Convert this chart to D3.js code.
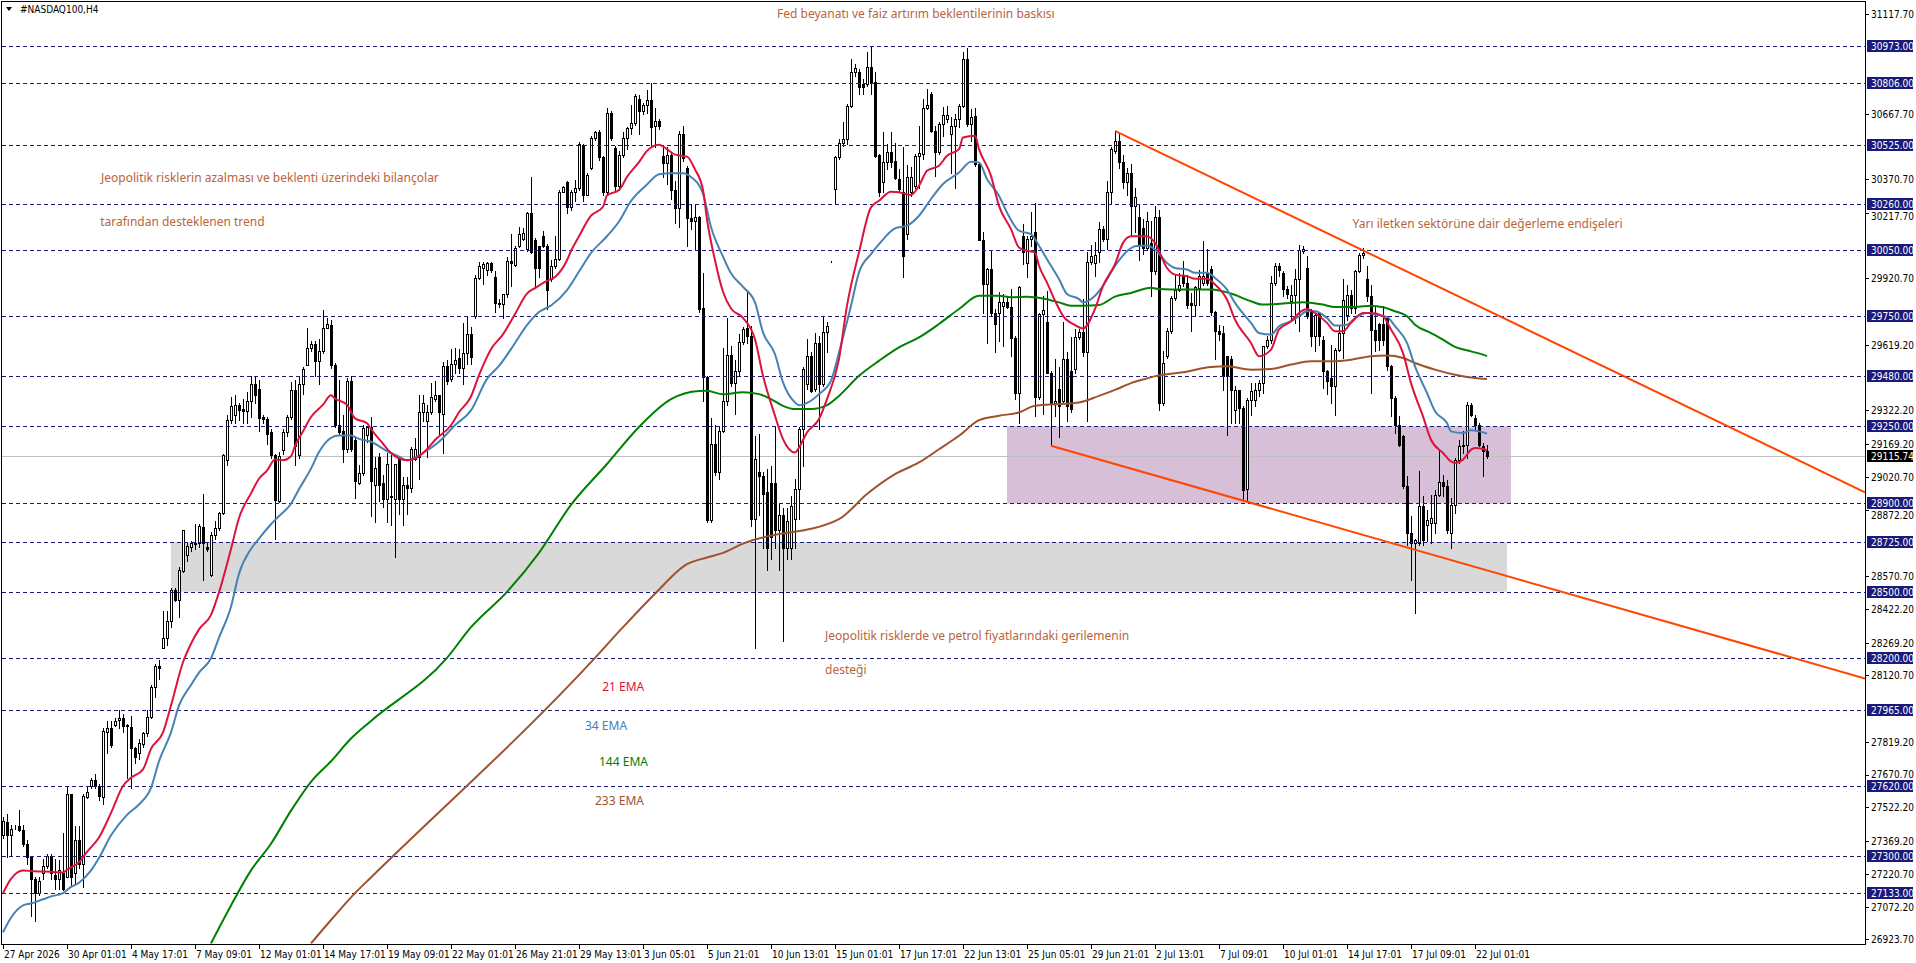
<!DOCTYPE html>
<html><head><meta charset="utf-8">
<script src="https://cdn.jsdelivr.net/npm/d3@7"></script>
<style>body{margin:0;background:#fff;overflow:hidden}svg{display:block}</style>
</head><body><svg id="c" width="1916" height="963"></svg>
<script>
// ---------- DATA ----------
const symbolTitle = "#NASDAQ100,H4";
const opens = [
27395,27454,27395,27432,27436,27417,27357,27297,27198,27133,
27226,27254,27301,27217,27198,27226,27208,27582,27226,27376,
27264,27567,27619,27647,27619,27567,27862,27884,27895,27918,
27927,27895,27886,27791,27769,27810,27858,27933,28068,28161,
28245,28288,28367,28507,28464,28595,28666,28703,28722,28722,
28793,28703,28576,28756,28787,28856,29099,29279,29301,29348,
29329,29320,29367,29442,29417,29292,29283,29223,29118,28913,
29142,29223,29292,29414,29118,29442,29530,29604,29623,29548,
29591,29698,29709,29529,29255,29230,29148,29455,29189,28993,
29040,29210,29245,28986,29112,28995,28919,28936,28919,29104,
28919,28986,28970,29104,29112,29314,29272,29314,29373,29390,
29306,29524,29465,29532,29558,29516,29583,29667,29751,29924,
29967,29961,29992,29927,29810,29805,29852,29998,29980,30070,
30100,30053,30218,30095,30066,30112,30070,29919,29978,30011,
30314,30356,30246,30314,30330,30527,30301,30423,30557,30586,
30473,30314,30672,30512,30339,30482,30557,30604,30625,30734,
30678,30709,30729,30612,30633,30477,30443,30482,30322,30242,
30574,30423,30196,30179,30201,29787,29474,28827,29171,29045,
29230,29364,29574,29448,29499,29633,29694,29661,28830,29044,
29026,28950,28995,28995,28780,28850,28700,28700,28829,28965,
29237,29442,29567,29419,29627,29442,29676,29995,30326,30470,
30537,30555,30704,30855,30855,30802,30802,30878,30810,30480,
30356,30447,30492,30454,30371,30311,30122,30311,30341,30477,
30485,30692,30757,30590,30492,30621,30643,30575,30611,30643,
30704,30916,30621,30658,30439,30097,29896,29963,29766,29766,
29797,29812,29790,29650,29401,30111,29990,30099,30132,29381,
29760,29721,29494,29358,29419,29366,29555,29502,29509,29653,
29676,29585,29995,29990,30039,30144,30099,30311,30500,30545,
30450,30360,30400,30250,30200,30150,30059,30082,29953,30200,
29356,29568,29681,29832,29870,29938,29900,29807,29798,29878,
29900,29946,29964,29767,29681,29673,29568,29556,29325,29413,
29333,28966,29371,29371,29416,29446,29613,29643,29900,29976,
29946,29873,29817,29847,29918,30044,29968,29772,29658,29764,
29643,29500,29469,29431,29598,29673,29757,29847,29787,29953,
30029,29918,29840,29689,29715,29715,29741,29522,29379,29257,
29208,28978,28766,28721,28721,28887,28804,28811,28811,28940,
28997,28978,28766,28891,29099,29159,29167,29348,29288,29257,29159,29136];
const highs = [
27479,27492,27441,27441,27511,27441,27376,27297,27208,27208,
27286,27311,27311,27286,27282,27404,27619,27582,27436,27436,
27582,27619,27656,27671,27628,27881,27914,27914,27927,27965,
27946,27899,27937,27797,27834,27862,27965,28077,28170,28189,
28413,28413,28516,28516,28610,28782,28722,28731,28806,28806,
28942,28722,28769,28819,28862,29124,29301,29385,29391,29357,
29376,29404,29479,29479,29460,29301,29292,29236,29124,29133,
29236,29301,29451,29460,29479,29520,29694,29638,29638,29647,
29778,29740,29730,29535,29460,29301,29470,29479,29208,29073,
29255,29249,29292,29112,29129,29028,29129,29121,29079,29112,
29020,29020,29154,29196,29390,29390,29348,29448,29457,29390,
29541,29549,29600,29603,29600,29717,29751,29700,29936,29994,
29994,29994,29994,29955,29826,29852,30020,30120,30070,30156,
30150,30221,30381,30104,30070,30137,30078,30003,30112,30322,
30339,30364,30322,30368,30540,30532,30398,30566,30591,30594,
30478,30695,30678,30520,30499,30583,30608,30709,30759,30751,
30717,30773,30806,30692,30642,30524,30515,30494,30364,30590,
30612,30431,30255,30255,30205,29944,29480,29288,29255,29247,
29603,29742,29616,29549,29667,29700,29857,29706,29207,29215,
29041,29056,29071,29252,28900,28880,28880,28935,29011,29245,
29517,29645,29585,29672,29661,29744,29721,29998,30477,30553,
30628,30711,30916,30893,30870,30825,30946,30976,30855,30485,
30583,30530,30583,30537,30417,30515,30435,30424,30485,30613,
30734,30782,30764,30613,30630,30696,30704,30651,30666,30711,
30949,30964,30689,30692,30447,30132,29966,30046,29782,29857,
29850,29835,29872,29661,29887,30167,30111,30220,30262,29763,
29842,29865,29500,29555,29517,29721,29585,29653,29691,29691,
29827,30039,30071,30084,30175,30160,30364,30515,30590,30576,
30480,30420,30440,30330,30260,30190,30220,30180,30250,30230,
29590,29696,29840,29938,29946,29999,29938,29855,29885,29961,
30089,30052,29976,29772,29711,29704,29570,29570,29431,29416,
29340,29378,29446,29446,29462,29616,29661,29931,29991,29991,
29953,29885,29893,29964,30074,30070,30021,29780,29764,29770,
29658,29507,29621,29605,29704,29918,29893,29870,29961,30036,
30059,29976,29893,29794,29719,29794,29749,29530,29386,29295,
29212,29023,28842,28740,29046,28932,28872,28940,28963,29144,
29030,29008,28925,29106,29189,29227,29359,29356,29303,29265,29174,29167];
const lows = [
27385,27297,27301,27426,27413,27348,27264,27030,27006,27124,
27198,27245,27198,27152,27152,27148,27208,27170,27180,27245,
27161,27563,27610,27610,27554,27535,27769,27797,27890,27881,
27862,27656,27610,27722,27741,27797,27847,27927,28021,28105,
28245,28258,28339,28460,28385,28591,28638,28684,28694,28703,
28554,28684,28572,28741,28782,28853,29073,29264,29264,29279,
29264,29264,29292,29357,29227,29264,29170,29105,28741,28909,
29124,29208,29283,29073,29105,29395,29526,29591,29479,29442,
29582,29694,29516,29249,29217,29086,29133,29137,28924,28987,
29030,29180,28843,28818,28911,28886,28818,28801,28659,28852,
28801,28852,28953,29096,29012,29272,29112,29306,29364,29213,
29129,29440,29457,29490,29490,29440,29532,29532,29742,29919,
29894,29936,29950,29768,29793,29742,29835,29885,29978,30062,
30095,30045,30036,29885,29927,30062,29784,29910,29969,30003,
30314,30218,30230,30272,30322,30272,30297,30415,30549,30457,
30297,30305,30549,30322,30322,30473,30507,30574,30616,30574,
30667,30672,30515,30515,30599,30381,30347,30280,30171,30154,
30452,30070,30146,30053,29770,29364,28818,28818,29030,29012,
29222,29348,29432,29306,29482,29625,29630,28800,28246,28850,
28700,28600,28650,28700,28600,28276,28650,28650,28700,28829,
29071,29419,29404,29411,29237,29434,29585,29993,30262,30462,
30522,30530,30696,30840,30757,30757,30795,30757,30470,30296,
30311,30417,30424,30371,30311,29925,30099,30296,30333,30333,
30462,30689,30583,30386,30485,30568,30628,30401,30333,30606,
30696,30613,30545,30432,30093,29766,29630,29751,29585,29638,
29615,29785,29570,29373,29267,29986,29925,30069,29298,29373,
29306,29490,29162,29298,29200,29358,29275,29313,29494,29645,
29570,29275,29985,29933,29993,30090,30054,30265,30490,30420,
30330,30300,30112,30130,30006,30030,30050,29840,29940,29325,
29348,29560,29673,29825,29862,29885,29787,29681,29749,29802,
29893,29893,29757,29556,29643,29416,29212,29265,29265,29265,
28917,28917,29300,29341,29386,29401,29605,29628,29893,29931,
29840,29832,29734,29719,29681,30036,29741,29613,29590,29621,
29424,29398,29356,29303,29590,29560,29734,29764,29764,29951,
30014,29817,29401,29590,29598,29621,29507,29295,29220,29159,
28970,28713,28554,28403,28713,28713,28728,28721,28766,28932,
28932,28766,28698,28857,29084,29129,29106,29298,29235,29159,29023,29106];
const closes = [
27460,27395,27426,27434,27417,27357,27297,27198,27133,27189,
27254,27301,27226,27198,27236,27152,27582,27208,27376,27264,
27572,27591,27647,27619,27572,27866,27881,27806,27914,27927,
27890,27890,27791,27750,27815,27858,27933,28068,28161,28152,
28288,28367,28507,28464,28600,28778,28707,28722,28718,28797,
28722,28694,28756,28787,28856,29118,29279,29342,29348,29324,
29320,29367,29442,29391,29286,29283,29217,29118,28918,29114,
29223,29292,29414,29161,29442,29511,29604,29623,29548,29591,
29698,29716,29529,29255,29223,29148,29455,29148,29002,29040,
29242,29245,29002,29062,28986,28919,29079,28928,29079,28919,
28986,28970,29146,29146,29314,29356,29314,29381,29390,29314,
29524,29457,29532,29549,29516,29583,29667,29563,29924,29978,
29986,29990,29961,29810,29805,29852,29998,29990,30057,30120,
30125,30218,30040,29967,29969,30070,29868,29978,30011,30314,
30334,30246,30314,30330,30532,30301,30390,30557,30586,30470,
30314,30672,30557,30339,30482,30557,30604,30625,30746,30678,
30709,30729,30608,30633,30612,30443,30482,30322,30242,30574,
30465,30196,30179,30201,29784,29474,28825,29171,29045,29230,
29364,29574,29448,29499,29633,29692,29661,28830,29104,29026,
28943,28700,28750,28780,28850,28700,28820,28889,28965,29237,
29509,29567,29411,29627,29442,29676,29706,29995,30470,30537,
30555,30704,30855,30873,30787,30787,30878,30810,30477,30311,
30447,30492,30447,30374,30326,30023,30379,30379,30477,30489,
30692,30706,30590,30492,30621,30662,30662,30611,30643,30704,
30916,30621,30651,30439,30097,29896,29963,29766,29714,29812,
29812,29790,29650,29401,29880,30039,30099,30114,29381,29760,
29779,29494,29358,29366,29343,29555,29343,29328,29653,29676,
29585,29995,30023,30029,30144,30099,30311,30507,30545,30450,
30360,30400,30250,30290,30074,30060,30180,29953,30200,29356,
29537,29681,29832,29870,29893,29900,29802,29798,29882,29931,
29931,29900,29767,29681,29670,29477,29477,29416,29413,29333,
28963,29371,29410,29416,29446,29613,29643,29900,29976,29961,
29873,29852,29847,29918,30048,30052,29749,29658,29757,29658,
29500,29454,29431,29598,29673,29825,29847,29787,29953,30029,
30036,29840,29689,29640,29643,29640,29522,29379,29257,29167,
28978,28766,28721,28736,28887,28736,28827,28834,28940,28997,
28978,28781,28891,29099,29159,29167,29348,29303,29257,29167,29136,29115.74];

// EMA values: [bar index, value]
const ema21 = [[0,27133],[2,27198],[5,27236],[8,27232],[12,27230],[15,27226],[16,27240],[19,27273],[21,27320],[24,27385],[27,27497],[30,27619],[32,27656],[35,27694],[37,27787],[40,27862],[42,27984],[45,28180],[47,28264],[49,28329],[52,28395],[54,28497],[57,28694],[59,28834],[62,28946],[64,29012],[66,29049],[68,29100],[70,29096],[72,29114],[73,29161],[75,29227],[77,29292],[80,29348],[82,29391],[83,29376],[86,29348],[88,29286],[91,29264],[92,29238],[95,29171],[97,29129],[101,29096],[103,29104],[106,29146],[108,29188],[112,29255],[114,29314],[117,29385],[119,29482],[122,29600],[125,29667],[128,29759],[131,29852],[133,29877],[136,29910],[138,29927],[141,30003],[142,30045],[144,30112],[147,30205],[150,30246],[151,30297],[154,30322],[156,30381],[159,30448],[161,30499],[164,30527],[166,30507],[168,30482],[171,30473],[173,30415],[175,30322],[176,30188],[178,30003],[180,29860],[182,29784],[185,29742],[188,29645],[190,29479],[193,29298],[195,29192],[198,29131],[199,29154],[201,29222],[204,29283],[206,29373],[209,29555],[211,29797],[214,30039],[217,30243],[219,30273],[222,30314],[224,30311],[227,30299],[229,30341],[231,30409],[234,30432],[236,30477],[239,30507],[240,30560],[243,30568],[244,30507],[247,30386],[249,30250],[252,30144],[254,30061],[256,30046],[258,30039],[259,29978],[261,29902],[263,29820],[265,29751],[268,29709],[270,29694],[273,29782],[275,29887],[278,29985],[280,30082],[282,30112],[286,30112],[288,30082],[291,29968],[293,29938],[296,29931],[298,29919],[301,29919],[303,29893],[306,29825],[308,29734],[312,29628],[314,29568],[317,29598],[319,29689],[322,29726],[324,29764],[326,29782],[328,29764],[331,29719],[333,29681],[335,29681],[337,29719],[340,29764],[342,29764],[345,29749],[347,29689],[350,29583],[352,29446],[355,29295],[357,29189],[360,29129],[362,29091],[363,29084],[365,29099],[367,29144],[368,29152],[370,29147],[371,29141]];
const ema34 = [[0,26955],[2,27021],[5,27077],[7,27086],[10,27105],[12,27118],[15,27133],[17,27161],[19,27180],[22,27236],[24,27292],[27,27395],[31,27488],[34,27535],[37,27610],[39,27731],[42,27862],[44,27984],[47,28077],[49,28133],[52,28198],[54,28292],[57,28432],[59,28582],[62,28694],[64,28741],[67,28806],[69,28843],[72,28899],[74,28965],[77,29058],[79,29133],[82,29198],[84,29208],[87,29208],[89,29193],[92,29180],[96,29138],[99,29112],[101,29096],[105,29129],[109,29180],[113,29255],[117,29322],[121,29465],[124,29524],[127,29600],[131,29709],[134,29768],[137,29798],[141,29868],[144,29952],[147,30036],[151,30112],[154,30179],[157,30272],[161,30347],[164,30393],[167,30398],[170,30398],[172,30381],[175,30305],[177,30154],[180,30020],[182,29944],[185,29882],[188,29812],[190,29676],[193,29577],[195,29449],[198,29358],[199,29346],[202,29366],[204,29396],[207,29457],[209,29585],[212,29797],[214,29948],[217,30031],[219,30076],[223,30148],[226,30160],[229,30205],[232,30281],[235,30349],[239,30401],[242,30450],[244,30447],[246,30371],[249,30296],[251,30220],[254,30137],[257,30122],[259,30069],[261,30008],[264,29918],[266,29850],[269,29827],[270,29812],[273,29842],[275,29887],[278,29977],[281,30044],[283,30067],[286,30070],[288,30052],[291,29991],[293,29968],[296,29961],[298,29946],[301,29946],[303,29923],[306,29870],[308,29810],[312,29719],[314,29673],[317,29666],[319,29704],[322,29726],[324,29749],[326,29772],[328,29772],[331,29741],[333,29707],[336,29711],[338,29741],[341,29764],[343,29757],[346,29746],[348,29704],[351,29628],[353,29522],[356,29401],[358,29318],[361,29265],[362,29227],[365,29220],[367,29232],[369,29227],[371,29217]];
const ema144 = [[52,26905],[57,27077],[62,27236],[67,27357],[72,27507],[77,27638],[82,27731],[87,27834],[92,27914],[111,28200],[117,28339],[126,28499],[134,28676],[142,28894],[151,29079],[159,29247],[167,29373],[174,29410],[176,29411],[180,29395],[185,29404],[189,29396],[192,29373],[195,29343],[198,29328],[202,29328],[206,29346],[209,29388],[214,29479],[219,29547],[224,29608],[229,29653],[234,29714],[239,29782],[244,29842],[249,29842],[252,29835],[256,29838],[260,29830],[264,29812],[267,29797],[270,29797],[274,29800],[278,29838],[282,29855],[287,29878],[289,29873],[295,29870],[302,29870],[307,29852],[312,29817],[315,29802],[320,29807],[325,29813],[330,29802],[333,29791],[338,29791],[342,29797],[345,29790],[348,29772],[351,29749],[353,29711],[357,29673],[360,29643],[363,29610],[367,29590],[370,29575],[371,29568]];
const ema233 = [[77,26905],[82,27011],[88,27133],[92,27204],[148,28200],[155,28339],[163,28491],[171,28625],[176,28655],[180,28676],[185,28718],[209,28829],[216,28943],[223,29033],[229,29086],[234,29146],[239,29207],[244,29278],[249,29298],[254,29313],[258,29343],[264,29351],[269,29358],[274,29388],[278,29415],[282,29446],[285,29462],[289,29481],[295,29495],[302,29519],[306,29522],[312,29507],[317,29510],[322,29530],[327,29545],[332,29545],[337,29552],[342,29568],[346,29571],[350,29560],[353,29537],[358,29507],[363,29484],[368,29469],[371,29465]];

const hLevels = [30973,30806,30525,30260,30050,29750,29480,29250,28900,28725,28500,28200,27965,27620,27300,27133];
const priceTicks = [31117.70,30667.70,30370.70,30217.70,29920.70,29619.20,29322.20,29169.20,29020.70,28872.20,28570.70,28422.20,28269.20,28120.70,27819.20,27670.70,27522.20,27369.20,27220.70,27072.20,26923.70];
const lastPrice = 29115.74;
const timeLabels = ["27 Apr 2026","30 Apr 01:01","4 May 17:01","7 May 09:01","12 May 01:01","14 May 17:01","19 May 09:01","22 May 01:01","26 May 21:01","29 May 13:01","3 Jun 05:01","5 Jun 21:01","10 Jun 13:01","15 Jun 01:01","17 Jun 17:01","22 Jun 13:01","25 Jun 05:01","29 Jun 21:01","2 Jul 13:01","7 Jul 09:01","10 Jul 01:01","14 Jul 17:01","17 Jul 09:01","22 Jul 01:01"];
const barsPerLabel = 16;
// zones: [startBar, endBar, priceTop, priceBottom]
const purpleZone = [251, 377, 29250, 28900];
const grayZone = [42, 376, 28725, 28500];
// trend lines (rays): [[bar, price],[bar, price]]
const upperTrend = [[278, 30590], [373.25, 29757]];
const lowerTrend = [[262, 29162], [373.25, 28585]];
// annotations: [text, bar, price]
const notes = [
 ["Fed beyanatı ve faiz artırım beklentilerinin baskısı", 193.5, 31118],
 ["Jeopolitik risklerin azalması ve beklenti üzerindeki bilançolar", 24.5, 30374],
 ["tarafından desteklenen trend", 24.3, 30175],
 ["Yarı iletken sektörüne dair değerleme endişeleri", 337.4, 30164],
 ["Jeopolitik risklerde ve petrol fiyatlarındaki gerilemenin", 205.5, 28296],
 ["desteği", 205.5, 28141]
];
const emaLabels = [["21 EMA", 149.8, 28065, "#DC143C"],["34 EMA", 145.5, 27888, "#4682B4"],["144 EMA", 149, 27722, "#008000"],["233 EMA", 148, 27548, "#A0522D"]];

// ---------- DRAW ----------
const svg = d3.select("#c");
const plotR = 1865, plotB = 944;
const y = d3.scaleLinear().domain([26899.5, 31183.4]).range([944.6, 0]);
const x = d3.scaleLinear().domain([0, 371]).range([3, 1487]);
const font = "'DejaVu Sans Condensed','DejaVu Sans',sans-serif";
const navy = "#1a1a7a";

svg.append("rect").attr("width",1916).attr("height",963).attr("fill","#fff");
svg.append("defs").append("clipPath").attr("id","pc").append("rect").attr("x",2).attr("y",2).attr("width",plotR-2).attr("height",plotB-2);
const g = svg.append("g").attr("clip-path","url(#pc)");

function zone(z, fill){
  g.append("rect").attr("x",x(z[0])).attr("y",y(z[2])).attr("width",x(z[1])-x(z[0])).attr("height",y(z[3])-y(z[2])).attr("fill",fill);
}
zone(grayZone, "#d9d9d9");
zone(purpleZone, "#d8bfd8");

g.append("line").attr("x1",2).attr("x2",plotR).attr("y1",Math.round(y(lastPrice))+0.5).attr("y2",Math.round(y(lastPrice))+0.5).attr("stroke","#c0c0c0").attr("stroke-width",1);

const cg = g.append("g").attr("shape-rendering","crispEdges");
opens.forEach((o,i)=>{
  const c = closes[i], h = highs[i], l = lows[i];
  const cx = Math.round(x(i));
  const yh = Math.round(y(h)), yl = Math.round(y(l));
  cg.append("line").attr("x1",cx+0.5).attr("x2",cx+0.5).attr("y1",yh).attr("y2",yl+1).attr("stroke","#000");
  const top = Math.round(y(Math.max(o,c))), bot = Math.round(y(Math.min(o,c)));
  if (c >= o) {
    cg.append("rect").attr("x",cx-0.5).attr("y",top+0.5).attr("width",2).attr("height",Math.max(0,bot-top)).attr("fill","#fff").attr("stroke","#000");
  } else {
    cg.append("rect").attr("x",cx-1).attr("y",top).attr("width",3).attr("height",Math.max(1,bot-top+1)).attr("fill","#000");
  }
});

hLevels.forEach(p=>{
  const yy = Math.round(y(p))+0.5;
  g.append("line").attr("x1",2).attr("x2",plotR).attr("y1",yy).attr("y2",yy).attr("stroke",navy).attr("stroke-width",1).attr("stroke-dasharray","4,3");
});

const line = d3.line().x(d=>x(d[0])).y(d=>y(d[1])).curve(d3.curveMonotoneX);
[[ema233,"#A0522D"],[ema144,"#008000"],[ema34,"#4682B4"],[ema21,"#DC143C"]].forEach(([d,col])=>{
  g.append("path").attr("d",line(d)).attr("fill","none").attr("stroke",col).attr("stroke-width",2);
});

function ray(t){
  const [a,b] = t;
  const slope = (b[1]-a[1])/(b[0]-a[0]);
  const endBar = x.invert(plotR);
  const endP = a[1] + slope*(endBar-a[0]);
  g.append("line").attr("x1",x(a[0])).attr("y1",y(a[1])).attr("x2",x(endBar)).attr("y2",y(endP)).attr("stroke","#FF4500").attr("stroke-width",2);
}
ray(upperTrend); ray(lowerTrend);

const nfont = "'Noto Sans','Open Sans',sans-serif";
notes.forEach(([t,b,p])=>{
  g.append("text").attr("x",x(b)).attr("y",y(p)).attr("dominant-baseline","middle").attr("font-family",nfont).attr("font-size",12).attr("fill","#b8653c").text(t);
});
emaLabels.forEach(([t,b,p,col])=>{
  g.append("text").attr("x",x(b)).attr("y",y(p)).attr("dominant-baseline","middle").attr("font-family",nfont).attr("font-size",12).attr("fill",col).text(t);
});

const ax = svg.append("g").attr("shape-rendering","crispEdges");
ax.append("line").attr("x1",1.5).attr("x2",1.5).attr("y1",1).attr("y2",plotB).attr("stroke","#000");
ax.append("line").attr("x1",1).attr("x2",plotR).attr("y1",1.5).attr("y2",1.5).attr("stroke","#000");
ax.append("line").attr("x1",plotR+0.5).attr("x2",plotR+0.5).attr("y1",1).attr("y2",plotB+1).attr("stroke","#000");
ax.append("line").attr("x1",1).attr("x2",plotR+1).attr("y1",plotB+0.5).attr("y2",plotB+0.5).attr("stroke","#000");

priceTicks.forEach(p=>{
  const yy = Math.round(y(p))+0.5;
  let ty = yy;
  hLevels.concat([lastPrice]).forEach(L=>{
    const ly = Math.round(y(L));
    if (Math.abs(ly - yy) < 12) ty = ly < yy ? ly + 12.5 : ly - 11.5;
  });
  ax.append("line").attr("x1",plotR).attr("x2",plotR+4).attr("y1",yy).attr("y2",yy).attr("stroke","#000");
  svg.append("text").attr("x",plotR+6).attr("y",ty).attr("dominant-baseline","middle").attr("font-family",font).attr("font-size",10).attr("fill","#000").text(d3.format(".2f")(p));
});
hLevels.forEach(p=>{
  const yy = Math.round(y(p));
  svg.append("rect").attr("x",plotR+2).attr("y",yy-6).attr("width",46).attr("height",12).attr("fill",navy);
  svg.append("text").attr("x",plotR+6).attr("y",yy+0.5).attr("dominant-baseline","middle").attr("font-family",font).attr("font-size",10).attr("fill","#fff").text(d3.format(".2f")(p));
});
{
  const yy = Math.round(y(lastPrice));
  svg.append("rect").attr("x",plotR+2).attr("y",yy-6).attr("width",46).attr("height",12).attr("fill","#000");
  svg.append("text").attr("x",plotR+6).attr("y",yy+0.5).attr("dominant-baseline","middle").attr("font-family",font).attr("font-size",10).attr("fill","#fff").text(d3.format(".2f")(lastPrice));
}

timeLabels.forEach((t,k)=>{
  const cx = Math.round(x(k*barsPerLabel));
  ax.append("line").attr("x1",cx+0.5).attr("x2",cx+0.5).attr("y1",plotB).attr("y2",plotB+5).attr("stroke","#000");
  svg.append("text").attr("x",cx+1).attr("y",955).attr("dominant-baseline","middle").attr("font-family",font).attr("font-size",10).attr("fill","#000").text(t);
});

svg.append("path").attr("d","M6,7 L12,7 L9,11 Z").attr("fill","#000");
svg.append("text").attr("x",20).attr("y",9.5).attr("dominant-baseline","middle").attr("font-family",font).attr("font-size",10).attr("fill","#000").text(symbolTitle);
</script></body></html>
